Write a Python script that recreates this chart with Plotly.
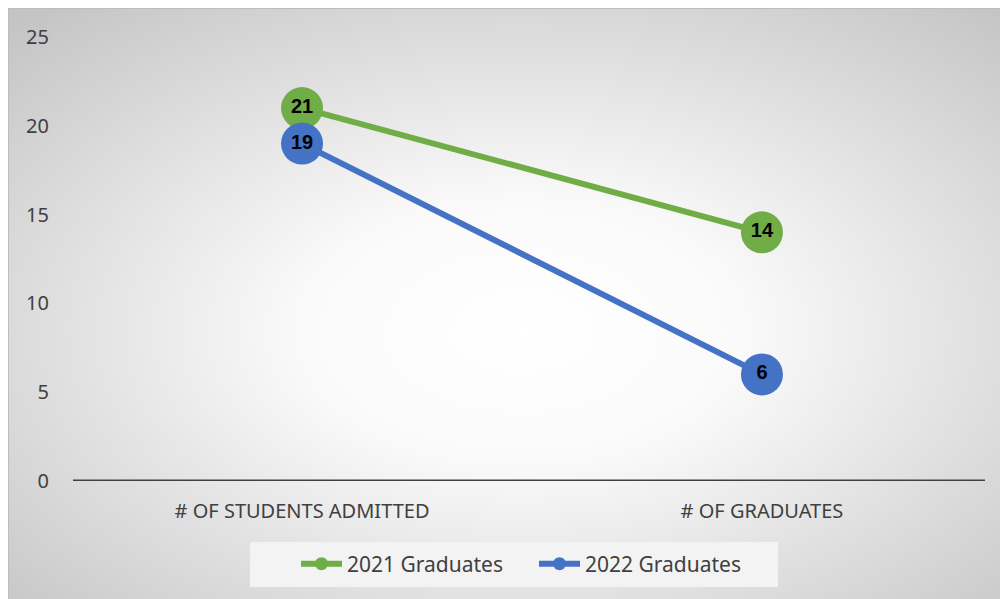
import base64
import plotly.graph_objects as go

categories = ["# OF STUDENTS ADMITTED", "# OF GRADUATES"]
series_names = ["2021 Graduates", "2022 Graduates"]
values_2021 = [21, 14]
values_2022 = [19, 6]
y_ticks = [0, 5, 10, 15, 20, 25]

colors = ["#70AD47", "#4472C4"]
series_values = [values_2021, values_2022]

W, H = 1008, 599
L, R, T, B = 65, 31, 29, 126
pw, ph = W - L - R, H - T - B

svg = (
    f'<svg xmlns="http://www.w3.org/2000/svg" width="{W}" height="{H}" viewBox="0 0 {W} {H}">'
    '<defs><radialGradient id="g" cx="0.51" cy="0.54" r="0.72">'
    '<stop offset="0" stop-color="#ffffff"/><stop offset="0.3" stop-color="#fafafa"/>'
    '<stop offset="1" stop-color="#c4c4c4"/></radialGradient></defs>'
    f'<rect x="0" y="0" width="{W}" height="{H}" fill="url(#g)"/>'
    f'<rect x="0.5" y="0.5" width="{W - 1}" height="{H - 1}" fill="none" stroke="#bdbdbd" stroke-width="1"/></svg>'
)
src = "data:image/svg+xml;base64," + base64.b64encode(svg.encode()).decode()

fig = go.Figure()
for name, vals, col in zip(series_names, series_values, colors):
    fig.add_trace(go.Scatter(
        x=categories, y=vals, mode="lines+markers+text", name=name,
        line=dict(color=col, width=6),
        marker=dict(color=col, size=42, line=dict(width=0)),
        text=[str(v) for v in vals], textposition="middle center",
        textfont=dict(family="Liberation Sans, Arial", size=20, color="#000000", weight="bold"),
        showlegend=False, cliponaxis=False,
    ))
for name, col in zip(series_names, colors):
    fig.add_trace(go.Scatter(
        x=[None], y=[None], mode="lines+markers", name=name,
        line=dict(color=col, width=6), marker=dict(color=col, size=13),
    ))

fig.update_layout(
    width=W, height=H,
    margin=dict(l=L, r=R, t=T, b=B, pad=0),
    paper_bgcolor="#ffffff", plot_bgcolor="rgba(0,0,0,0)",
    font=dict(family="Noto Sans, Open Sans, sans-serif", color="#404040", size=20),
    images=[dict(
        source=src, xref="paper", yref="paper",
        x=-L / pw, y=1 + T / ph, sizex=W / pw, sizey=H / ph,
        xanchor="left", yanchor="top", sizing="stretch", layer="below",
    )],
    legend=dict(
        orientation="h", x=(288 - L) / pw, xanchor="left",
        y=(473 - 556) / ph, yanchor="middle",
        bgcolor="rgba(0,0,0,0)", font=dict(size=21, color="#404040"),
        itemwidth=41, entrywidth=182, entrywidthmode="pixels",
    ),
    xaxis=dict(
        type="category", range=[-0.498, 1.485], showgrid=False, zeroline=False,
        showline=False, ticks="", tickfont=dict(size=20, color="#404040"),
        ticklabelstandoff=16,
    ),
    yaxis=dict(
        range=[0, 25], tickvals=y_ticks, showgrid=False, zeroline=False,
        showline=False, ticks="", tickfont=dict(size=20, color="#404040"),
        ticklabelstandoff=23,
    ),
    shapes=[
        dict(type="line", xref="paper", yref="y", x0=0, x1=1, y0=0, y1=0,
             line=dict(color="#404040", width=3), layer="below"),
        dict(type="rect", xref="paper", yref="paper",
             x0=(242 - L) / pw, x1=(770 - L) / pw,
             y0=(473 - 534) / ph, y1=(473 - 579) / ph,
             fillcolor="#f3f3f3", line=dict(width=0), layer="below"),
    ],
)

fig.write_html("out.html")
